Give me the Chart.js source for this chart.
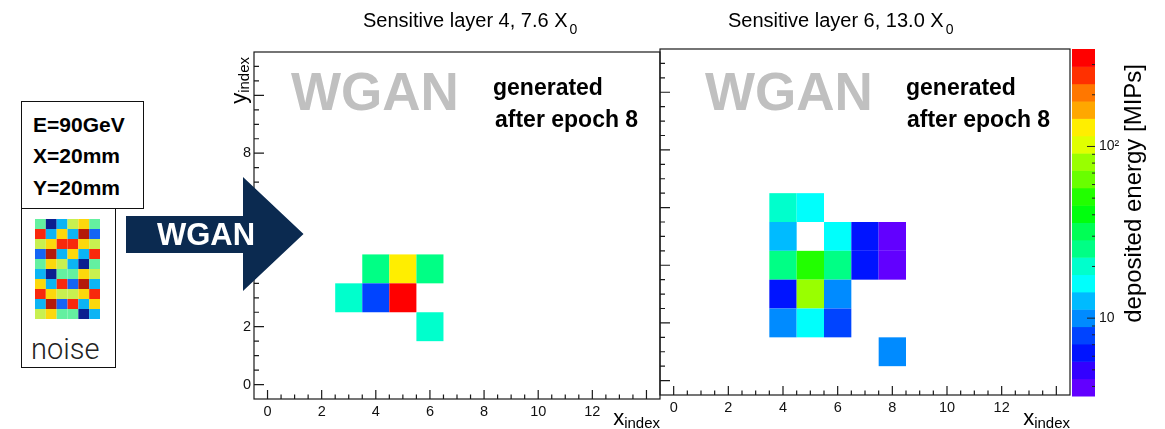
<!DOCTYPE html>
<html>
<head>
<meta charset="utf-8">
<script src="https://cdn.jsdelivr.net/npm/chart.js@4.4.1/dist/chart.umd.min.js"></script>
<style>
  html, body { margin: 0; padding: 0; background: #fff; }
  body { position: relative; width: 1165px; height: 429px; overflow: hidden;
         font-family: "Liberation Sans", Arial, Helvetica, sans-serif; color: #000; }
  canvas, .txt, .box, #arrow { position: absolute; }
  .txt { white-space: nowrap; line-height: 1; }
  .title { font-size: 20px; top: 10px; }
  .title sub { font-size: 14px; vertical-align: baseline; position: relative; top: 7px; margin-left: 2px; }
  .wgan { font-size: 53px; font-weight: bold; color: #c0c0c0; top: 65px; }
  .gen { font-size: 23px; font-weight: bold; }
  .box { border: 1.5px solid #111; box-sizing: border-box; }
  .param { font-size: 21px; font-weight: bold; left: 33px; }
  #arrow { left: 126px; top: 177px; width: 178px; height: 114px; background: #0b2a50;
           clip-path: polygon(0 39px, 117px 39px, 117px 0, 177.5px 57px, 117px 114px, 117px 76px, 0 76px); }
</style>
</head>
<body>
<canvas id="layer4" width="470" height="429" style="left:200px;top:0"></canvas>
<canvas id="layer6" width="450" height="429" style="left:650px;top:0"></canvas>
<canvas id="zbar" width="105" height="429" style="left:1060px;top:0"></canvas>

<div class="txt title" style="left:363px">Sensitive layer 4, 7.6 X<sub>0</sub></div>
<div class="txt title" style="left:728px">Sensitive layer 6, 13.0 X<sub>0</sub></div>

<div class="txt wgan" style="left:291px">WGAN</div>
<div class="txt wgan" style="left:705px">WGAN</div>
<div class="txt gen" style="left:493px;top:76px">generated</div>
<div class="txt gen" style="left:495px;top:108px">after epoch 8</div>
<div class="txt gen" style="left:906px;top:76px">generated</div>
<div class="txt gen" style="left:907px;top:108px">after epoch 8</div>

<div class="box" style="left:21px;top:101px;width:123px;height:108px"></div>
<div class="txt param" style="top:114px">E=90GeV</div>
<div class="txt param" style="top:145px">X=20mm</div>
<div class="txt param" style="top:177px">Y=20mm</div>
<div class="box" style="left:21px;top:207.5px;width:95px;height:160px"></div>
<canvas id="noise" width="65" height="100" style="left:35px;top:219px"></canvas>
<div class="txt" style="left:31px;top:335px;font-size:29px;font-family:Roboto,'Liberation Sans',sans-serif;font-weight:300;color:#222">noise</div>

<div id="arrow"></div>
<div class="txt" style="left:157px;top:219px;font-size:31px;font-weight:bold;color:#fff">WGAN</div>

<script>
// z colour scale: log axis, 20 contour bands (ROOT pretty palette, violet -> red)
const zMin = 3.52;
const zMax = 369.5;
const bandColors = ["#6200ff", "#3300ff", "#0014ff", "#0044ff", "#008bff",
  "#00bbff", "#00fffc", "#00ffcc", "#00ff85", "#00ff55",
  "#00ff0e", "#22ff00", "#69ff00", "#99ff00", "#e0ff00",
  "#ffee00", "#ffa700", "#ff7700", "#ff3000", "#ff0000"];
const zTicks = [10, 100];
const zTickLabels = ["10", "10²"];

// Sensitive layer 4 (7.6 X0): cell indices and deposited energy [MIPs]
const layer4X = [4, 5, 6, 3, 4, 5, 6];
const layer4Y = [4, 4, 4, 3, 3, 3, 2];
const layer4E = [25, 130, 25, 20, 8, 330, 20];

// Sensitive layer 6 (13.0 X0)
const layer6X = [4, 5, 4, 6, 7, 8, 4, 5, 6, 7, 8, 4, 5, 6, 4, 5, 6, 8];
const layer6Y = [6, 6, 5, 5, 5, 5, 4, 4, 4, 4, 4, 3, 3, 3, 2, 2, 2, 1];
const layer6E = [20, 16, 12.5, 16, 6.2, 4, 25, 51, 25, 6.2, 4, 6.2, 80, 10, 10, 16, 8, 10];

const xTickValues = [0, 2, 4, 6, 8, 10, 12];
const yTickValues = [0, 2, 4, 6, 8];

// input noise: 10 rows x 6 columns of colour levels
const noiseRows = [
  [3, 0, 2, 4, 5, 3],
  [6, 2, 5, 2, 7, 1],
  [4, 5, 6, 6, 5, 4],
  [1, 7, 2, 5, 2, 6],
  [3, 5, 4, 2, 0, 3],
  [2, 0, 3, 3, 5, 4],
  [5, 2, 6, 1, 7, 2],
  [6, 5, 4, 4, 5, 6],
  [2, 7, 1, 6, 2, 5],
  [4, 5, 3, 3, 0, 2],
];
const noiseColors = ["#0c1f8f", "#1464f4", "#0cb4f4", "#64f0a0", "#c8f050", "#fcd80c", "#f8280c", "#b41a0a"];

const FONT = "'Liberation Sans', Arial, Helvetica, sans-serif";

function zColor(v) {
  const lo = Math.log10(zMin), hi = Math.log10(zMax);
  const t = (Math.log10(v) - lo) / (hi - lo);
  const k = Math.max(0, Math.min(bandColors.length - 1, Math.floor(t * bandColors.length)));
  return bandColors[k];
}

// fills one rectangle per data point, one unit wide/high around (x, y)
const heatmap = {
  id: "heatmap",
  beforeDatasetsDraw(chart, args, opts) {
    const { ctx, chartArea: a, scales: { x, y } } = chart;
    ctx.save();
    ctx.beginPath();
    ctx.rect(a.left, a.top, a.width, a.height);
    ctx.clip();
    chart.data.datasets[0].data.forEach((c) => {
      const x0 = x.getPixelForValue(c.x - 0.5), x1 = x.getPixelForValue(c.x + 0.5);
      const y0 = y.getPixelForValue(c.y + 0.5), y1 = y.getPixelForValue(c.y - 0.5);
      ctx.fillStyle = opts.color(c.v);
      ctx.fillRect(x0, y0, x1 - x0, y1 - y0);
    });
    ctx.restore();
  },
};

// ROOT-style frame: box, inward ticks on bottom/left, subscripted axis titles
const rootFrame = {
  id: "rootFrame",
  afterDraw(chart, args, opts) {
    const { ctx, chartArea: a, scales: { x, y } } = chart;
    ctx.save();
    ctx.strokeStyle = "#1a1a1a";
    ctx.lineWidth = 1.2;
    ctx.strokeRect(a.left, a.top, a.width, a.height);
    ctx.beginPath();
    for (let v = 0; v <= 14; v += 0.5) {
      const px = x.getPixelForValue(v);
      const len = v % 2 === 0 ? 9 : 4.5;
      ctx.moveTo(px, a.bottom);
      ctx.lineTo(px, a.bottom - len);
    }
    for (let v = 0; v < 11.5; v += 0.5) {
      const py = y.getPixelForValue(v);
      const len = v % 2 === 0 ? 10 : 5;
      ctx.moveTo(a.left, py);
      ctx.lineTo(a.left + len, py);
    }
    ctx.stroke();

    ctx.fillStyle = "#000";
    ctx.textBaseline = "alphabetic";
    // x_index
    ctx.font = "15px " + FONT;
    const wIdx = ctx.measureText("index").width;
    ctx.textAlign = "right";
    ctx.fillText("index", a.right, 428);
    ctx.font = "22px " + FONT;
    ctx.fillText("x", a.right - wIdx, 425);
    // y_index
    if (opts.yTitle) {
      ctx.translate(a.left - 8, 57);
      ctx.rotate(-Math.PI / 2);
      ctx.font = "15px " + FONT;
      ctx.fillText("index", 0, 3);
      ctx.font = "22px " + FONT;
      ctx.fillText("y", -wIdx, 0);
    }
    ctx.restore();
  },
};

// colour bar: contour bands on a log axis, ticks on the right edge, rotated title
const zBar = {
  id: "zBar",
  beforeDraw(chart) {
    const { ctx, chartArea: a, scales: { y } } = chart;
    const lo = Math.log10(zMin), step = (Math.log10(zMax) - lo) / bandColors.length;
    ctx.save();
    bandColors.forEach((col, k) => {
      const p0 = y.getPixelForValue(Math.pow(10, lo + k * step));
      const p1 = y.getPixelForValue(Math.pow(10, lo + (k + 1) * step));
      ctx.fillStyle = col;
      ctx.fillRect(a.left, p1, a.width, p0 - p1 + 0.5);
    });
    ctx.strokeStyle = "#222";
    ctx.lineWidth = 1;
    ctx.beginPath();
    for (let dec = 1; dec <= 100; dec *= 10) {
      for (let m = 1; m <= 9; m++) {
        const v = m * dec;
        if (v < zMin || v > zMax) continue;
        const py = y.getPixelForValue(v);
        const len = m === 1 ? 8 : 3;
        ctx.moveTo(a.right, py);
        ctx.lineTo(a.right - len, py);
      }
    }
    ctx.stroke();
    ctx.fillStyle = "#000";
    ctx.translate(a.right + 46, 64);
    ctx.rotate(-Math.PI / 2);
    ctx.textAlign = "right";
    ctx.font = "24px " + FONT;
    ctx.fillText("deposited energy [MIPs]", 0, 0);
    ctx.restore();
  },
};

function cells(xs, ys, es) {
  return xs.map((v, i) => ({ x: v, y: ys[i], v: es[i] }));
}

function layerChart(id, xs, ys, es, o) {
  return new Chart(document.getElementById(id), {
    type: "scatter",
    data: { datasets: [{ data: cells(xs, ys, es), pointRadius: 0 }] },
    options: {
      responsive: false,
      animation: false,
      events: [],
      layout: { padding: o.padding },
      plugins: {
        legend: { display: false },
        tooltip: { enabled: false },
        heatmap: { color: zColor },
        rootFrame: { yTitle: o.yTitle },
      },
      scales: {
        x: {
          type: "linear", min: -0.5, max: 14.5,
          grid: { display: false, drawTicks: false },
          border: { display: false },
          afterBuildTicks: (s) => { s.ticks = xTickValues.map((v) => ({ value: v })); },
          afterFit: (s) => { s.height = o.xHeight; },
          ticks: { padding: 4, color: "#111", maxRotation: 0, autoSkip: false,
                   font: { family: FONT, size: 14.5 } },
        },
        y: {
          type: "linear", min: -0.5, max: 11.5,
          grid: { display: false, drawTicks: false },
          border: { display: false },
          afterBuildTicks: (s) => { s.ticks = yTickValues.map((v) => ({ value: v })); },
          afterFit: (s) => { s.width = o.yWidth; },
          ticks: { display: o.yLabels, padding: 3, color: "#111", autoSkip: false,
                   font: { family: FONT, size: 14.5 } },
        },
      },
    },
    plugins: [heatmap, rootFrame],
  });
}

layerChart("layer4", layer4X, layer4Y, layer4E,
  { padding: { top: 52, right: 10, left: 0, bottom: 0 }, xHeight: 30, yWidth: 54, yLabels: true, yTitle: true });
layerChart("layer6", layer6X, layer6Y, layer6E,
  { padding: { top: 49, right: 30, left: 0, bottom: 0 }, xHeight: 34, yWidth: 10, yLabels: false, yTitle: false });

new Chart(document.getElementById("zbar"), {
  type: "scatter",
  data: { datasets: [] },
  options: {
    responsive: false,
    animation: false,
    events: [],
    layout: { padding: { left: 12, top: 49, bottom: 33, right: 0 } },
    plugins: { legend: { display: false }, tooltip: { enabled: false } },
    scales: {
      x: { display: false, min: 0, max: 1 },
      y: {
        type: "logarithmic", position: "right", min: zMin, max: zMax,
        grid: { display: false, drawTicks: false },
        border: { display: false },
        afterBuildTicks: (s) => { s.ticks = zTicks.map((v) => ({ value: v })); },
        afterFit: (s) => { s.width = 70; },
        ticks: { padding: 4, color: "#111", autoSkip: false,
                 callback: (v) => zTickLabels[zTicks.indexOf(v)],
                 font: { family: FONT, size: 14 } },
      },
    },
  },
  plugins: [zBar],
});

// noise grid, row 0 on top
const noiseCells = [];
noiseRows.forEach((row, r) => row.forEach((lvl, c) => noiseCells.push({ x: c, y: r, v: lvl })));
new Chart(document.getElementById("noise"), {
  type: "scatter",
  data: { datasets: [{ data: noiseCells, pointRadius: 0 }] },
  options: {
    responsive: false,
    animation: false,
    events: [],
    plugins: { legend: { display: false }, tooltip: { enabled: false },
               heatmap: { color: (lvl) => noiseColors[lvl] } },
    scales: {
      x: { display: false, min: -0.5, max: 5.5 },
      y: { display: false, min: -0.5, max: 9.5, reverse: true },
    },
  },
  plugins: [heatmap],
});
</script>
</body>
</html>
